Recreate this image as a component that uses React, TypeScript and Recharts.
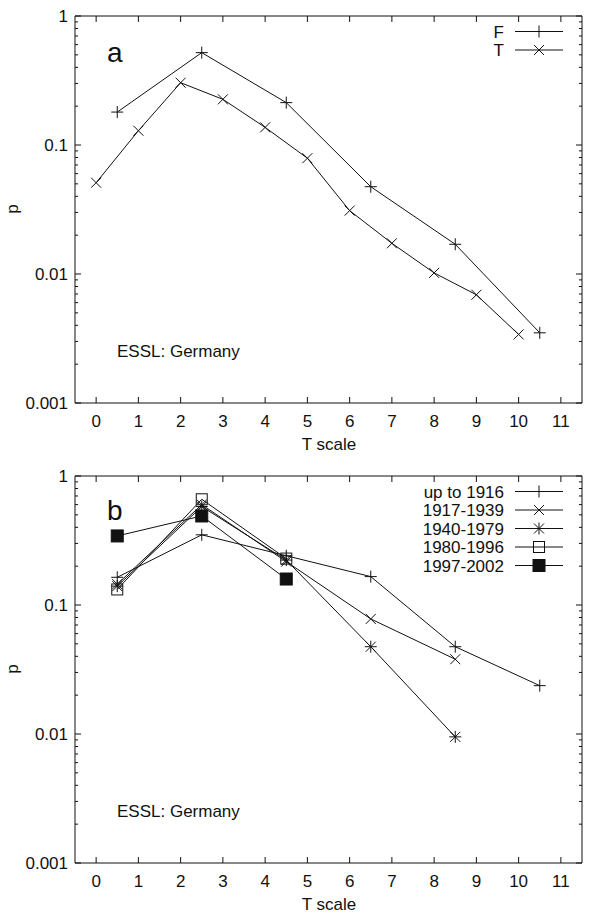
import React from "react";
import {
  LineChart,
  Line,
  XAxis,
  YAxis,
  Customized,
} from "recharts";

// panel a: fatalities (F) and all events (T) per T-scale class
const fX = [0.5, 2.5, 4.5, 6.5, 8.5, 10.5];
const fP = [0.18, 0.52, 0.213, 0.0475, 0.017, 0.0035];
const tX = [0, 1, 2, 3, 4, 5, 6, 7, 8, 9, 10];
const tP = [0.051, 0.129, 0.304, 0.226, 0.137, 0.079, 0.031, 0.0173, 0.0102, 0.0069, 0.0034];

// panel b: periods
const bX = [0.5, 2.5, 4.5, 6.5, 8.5, 10.5];
const upTo1916 = [0.164, 0.35, 0.241, 0.166, 0.0475, 0.0237];
const p1917 = [0.145, 0.6, 0.217, 0.078, 0.038];
const p1940 = [0.14, 0.58, 0.223, 0.0475, 0.0095];
const p1980 = [0.132, 0.66, 0.229];
const p1997 = [0.343, 0.49, 0.159];

const xTicks = [0, 1, 2, 3, 4, 5, 6, 7, 8, 9, 10, 11];
const decades = [0.001, 0.01, 0.1];
const yTicks = [...decades.flatMap((d) => [1, 2, 3, 4, 5, 6, 7, 8, 9].map((k) => k * d)), 1];
const yLabels: Record<string, string> = { "0.001": "0.001", "0.01": "0.01", "0.1": "0.1", "1": "1" };

const FONT = "'Liberation Sans', Arial, Helvetica, sans-serif";
const INK = "#111";

const toRows = (xs: number[], ps: number[]) => ps.map((p, i) => ({ x: xs[i], p }));

const isMajor = (v: number) => {
  const l = Math.log10(v);
  return Math.abs(l - Math.round(l)) < 1e-6;
};

type Kind = "plus" | "cross" | "star" | "box" | "fbox";

const Marker = ({ kind, cx, cy }: { kind: Kind; cx: number; cy: number }) => {
  if (cx == null || cy == null || isNaN(cx) || isNaN(cy)) return null;
  const s = 6;
  const c = 5;
  const plus = (
    <>
      <line x1={cx - s} x2={cx + s} y1={cy} y2={cy} stroke={INK} />
      <line x1={cx} x2={cx} y1={cy - s} y2={cy + s} stroke={INK} />
    </>
  );
  const cross = (
    <>
      <line x1={cx - c} x2={cx + c} y1={cy - c} y2={cy + c} stroke={INK} />
      <line x1={cx - c} x2={cx + c} y1={cy + c} y2={cy - c} stroke={INK} />
    </>
  );
  if (kind === "plus") return <g>{plus}</g>;
  if (kind === "cross") return <g>{cross}</g>;
  if (kind === "star") return <g>{plus}{cross}</g>;
  if (kind === "box")
    return <rect x={cx - 5.5} y={cy - 5.5} width={11} height={11} fill="none" stroke={INK} />;
  return <rect x={cx - 6} y={cy - 6} width={12} height={12} fill={INK} stroke={INK} />;
};

const dotFor = (kind: Kind) => (props: any) => (
  <Marker key={`d-${kind}-${props.index}`} kind={kind} cx={props.cx} cy={props.cy} />
);

const LeftTick = (props: any) => {
  const { x, y, payload } = props;
  const v = payload.value;
  const major = isMajor(v);
  const edge = x + 7;
  return (
    <g>
      <line x1={edge} x2={edge + (major ? 6 : 3)} y1={y} y2={y} stroke={INK} />
      {major && (
        <text x={x} y={y + 6} textAnchor="end" fontSize={17} fontFamily={FONT} fill={INK}>
          {yLabels[String(Math.round(v * 1000) / 1000)]}
        </text>
      )}
    </g>
  );
};

const RightTick = (props: any) => {
  const { x, y, payload } = props;
  const major = isMajor(payload.value);
  return <line x1={x} x2={x - (major ? 6 : 3)} y1={y} y2={y} stroke={INK} />;
};

const BottomTick = (props: any) => {
  const { x, y, payload } = props;
  const edge = y - 9;
  return (
    <g>
      <line x1={x} x2={x} y1={edge} y2={edge - 6} stroke={INK} />
      <text x={x} y={y + 15} textAnchor="middle" fontSize={17} fontFamily={FONT} fill={INK}>
        {payload.value}
      </text>
    </g>
  );
};

const TopTick = (props: any) => {
  const { x, y } = props;
  return <line x1={x} x2={x} y1={y} y2={y + 6} stroke={INK} />;
};

interface SeriesDef {
  name: string;
  kind: Kind;
  rows: { x: number; p: number }[];
}

const Annotations = ({ letter, series }: { letter: string; series: SeriesDef[] }) => (
  <g fontFamily={FONT} fill={INK}>
    <text x={107} y={letter === "a" ? 62 : 60} fontSize={28}>
      {letter}
    </text>
    <text x={117} y={357} fontSize={17}>
      ESSL: Germany
    </text>
    <text x={329} y={450} fontSize={17} textAnchor="middle">
      T scale
    </text>
    <text x={18} y={209} fontSize={17} textAnchor="middle" transform="rotate(-90 18 209)">
      p
    </text>
    {series.map((s, i) => {
      const y = 31.5 + i * 18.5;
      return (
        <g key={s.name}>
          <text x={504} y={y + 6} fontSize={17} textAnchor="end">
            {s.name}
          </text>
          <line x1={515} x2={563} y1={y} y2={y} stroke={INK} />
          <Marker kind={s.kind} cx={539} cy={y} />
        </g>
      );
    })}
  </g>
);

const Panel = ({ height, letter, series }: { height: number; letter: string; series: SeriesDef[] }) => (
  <LineChart width={598} height={height} margin={{ top: 15, right: 15, bottom: 0, left: 0 }}>
    <XAxis
      xAxisId="bottom"
      type="number"
      dataKey="x"
      domain={[-0.5, 11.5]}
      ticks={xTicks}
      interval={0}
      height={height - 403}
      tickSize={0}
      tickMargin={9}
      tickLine={false}
      axisLine={{ stroke: INK }}
      tick={<BottomTick />}
      allowDataOverflow
    />
    <XAxis
      xAxisId="top"
      orientation="top"
      type="number"
      dataKey="x"
      domain={[-0.5, 11.5]}
      ticks={xTicks}
      interval={0}
      height={1}
      tickSize={0}
      tickMargin={0}
      tickLine={false}
      axisLine={{ stroke: INK }}
      tick={<TopTick />}
      allowDataOverflow
    />
    <YAxis
      yAxisId="left"
      scale="log"
      domain={[0.001, 1]}
      ticks={yTicks}
      interval={0}
      width={75}
      tickSize={0}
      tickMargin={7}
      tickLine={false}
      axisLine={{ stroke: INK }}
      tick={<LeftTick />}
      allowDataOverflow
    />
    <YAxis
      yAxisId="right"
      orientation="right"
      scale="log"
      domain={[0.001, 1]}
      ticks={yTicks}
      interval={0}
      width={1}
      tickSize={0}
      tickMargin={0}
      tickLine={false}
      axisLine={{ stroke: INK }}
      tick={<RightTick />}
      allowDataOverflow
    />
    {series.map((s) => (
      <Line
        key={s.name}
        data={s.rows}
        dataKey="p"
        xAxisId="bottom"
        yAxisId="left"
        type="linear"
        stroke={INK}
        strokeWidth={1}
        dot={dotFor(s.kind)}
        activeDot={false}
        isAnimationActive={false}
      />
    ))}
    <Customized component={<Annotations letter={letter} series={series} />} />
  </LineChart>
);

const seriesA: SeriesDef[] = [
  { name: "F", kind: "plus", rows: toRows(fX, fP) },
  { name: "T", kind: "cross", rows: toRows(tX, tP) },
];

const seriesB: SeriesDef[] = [
  { name: "up to 1916", kind: "plus", rows: toRows(bX, upTo1916) },
  { name: "1917-1939", kind: "cross", rows: toRows(bX, p1917) },
  { name: "1940-1979", kind: "star", rows: toRows(bX, p1940) },
  { name: "1980-1996", kind: "box", rows: toRows(bX, p1980) },
  { name: "1997-2002", kind: "fbox", rows: toRows(bX, p1997) },
];

export default function App() {
  return (
    <div style={{ position: "absolute", left: 0, top: 0, width: 598, height: 913, background: "#fff" }}>
      <div style={{ position: "absolute", left: 0, top: 0 }}>
        <Panel height={460} letter="a" series={seriesA} />
      </div>
      <div style={{ position: "absolute", left: 0, top: 460 }}>
        <Panel height={453} letter="b" series={seriesB} />
      </div>
    </div>
  );
}
